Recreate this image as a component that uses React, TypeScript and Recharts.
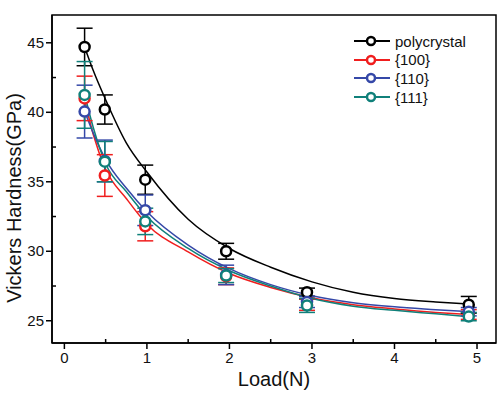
import { ComposedChart, Line, Scatter, ErrorBar, XAxis, YAxis, ReferenceArea, Legend } from 'recharts';

// measured points (load in N, HV in GPa)
const loads = [0.245, 0.49, 0.98, 1.96, 2.94, 4.9];
const polyHV = [44.7, 40.2, 35.15, 30.0, 27.05, 26.15];
const polyErr = [1.35, 1.05, 1.05, 0.57, 0.3, 0.6];
const hv100 = [41.0, 35.45, 31.8, 28.2, 26.15, 25.45];
const err100 = [1.6, 1.5, 1.05, 0.6, 0.4, 0.35];
const hv110 = [40.05, 36.5, 32.95, 28.3, 26.35, 25.65];
const err110 = [1.9, 1.5, 1.1, 0.7, 0.4, 0.3];
const hv111 = [41.25, 36.45, 32.15, 28.25, 26.1, 25.3];
const err111 = [2.4, 1.45, 0.95, 0.5, 0.5, 0.3];

// fitted curves
const fitLoads = [0.245, 0.35, 0.5, 0.75, 1.0, 1.5, 2.0, 2.5, 3.0, 3.5, 4.0, 4.5, 4.9];
const polyFit = [44.7, 43.0, 40.9, 37.8, 35.7, 32.3, 30.2, 28.85, 27.8, 27.05, 26.6, 26.35, 26.2];
const fit100 = [40.9, 38.4, 35.9, 33.8, 31.95, 29.95, 28.4, 27.4, 26.65, 26.15, 25.85, 25.6, 25.45];
const fit110 = [40.1, 38.5, 36.6, 34.55, 32.85, 30.45, 28.75, 27.6, 26.8, 26.3, 26.0, 25.8, 25.65];
const fit111 = [41.3, 38.9, 36.3, 34.3, 32.5, 30.2, 28.6, 27.5, 26.6, 26.05, 25.75, 25.5, 25.3];

const xTicks = [0, 0.5, 1, 1.5, 2, 2.5, 3, 3.5, 4, 4.5, 5];
const yTicks = [25, 27.5, 30, 32.5, 35, 37.5, 40, 42.5, 45];

const series = [
  { name: 'polycrystal', color: '#000000', hv: polyHV, err: polyErr, fit: polyFit },
  { name: '{100}', color: '#f01e1e', hv: hv100, err: err100, fit: fit100 },
  { name: '{110}', color: '#3548a8', hv: hv110, err: err110, fit: fit110 },
  { name: '{111}', color: '#10807a', hv: hv111, err: err111, fit: fit111 },
];

const FONT = '"Liberation Sans", Arial, sans-serif';

const XTick = (props: any) => {
  const { x, y, payload } = props;
  const v = payload.value;
  const major = Number.isInteger(v);
  return (
    <g>
      <line x1={x} x2={x} y1={y} y2={major ? y + 6 : y - 4} stroke="#000" strokeWidth={1.5} />
      {major && (
        <text x={x} y={y + 20} textAnchor="middle" fontSize={15} fontFamily={FONT} fill="#111">
          {v}
        </text>
      )}
    </g>
  );
};

const YTick = (props: any) => {
  const { x, y, payload } = props;
  const v = payload.value;
  const major = Number.isInteger(v);
  return (
    <g>
      <line x1={x} x2={major ? x - 6 : x + 4} y1={y} y2={y} stroke="#000" strokeWidth={1.5} />
      {major && (
        <text x={x - 8} y={y + 5} textAnchor="end" fontSize={15} fontFamily={FONT} fill="#111">
          {v}
        </text>
      )}
    </g>
  );
};

const Ring = (color: string) => (props: any) => {
  const { cx, cy } = props;
  return <circle cx={cx} cy={cy} r={5} fill="#fff" stroke={color} strokeWidth={2.5} />;
};

const renderLegend = () => (
  <div style={{ fontFamily: FONT, fontSize: 15, color: '#111' }}>
    {series.map(s => (
      <div key={s.name} style={{ display: 'flex', alignItems: 'center', height: 18.6 }}>
        <svg width={40} height={12} style={{ marginRight: 3 }}>
          <line x1={2} x2={38} y1={6} y2={6} stroke={s.color} strokeWidth={2} />
          <circle cx={19} cy={6} r={4} fill="#fff" stroke={s.color} strokeWidth={2.5} />
        </svg>
        <span>{s.name}</span>
      </div>
    ))}
  </div>
);

export default function App() {
  return (
    <div style={{ position: 'absolute', left: 0, top: 0, width: 500, height: 393, background: '#fff' }}>
      <ComposedChart width={500} height={393} margin={{ top: 15, right: 4, bottom: 0, left: 0 }}>
        <XAxis
          type="number"
          dataKey="x"
          domain={[-0.15, 5.23]}
          allowDataOverflow
          ticks={xTicks}
          interval={0}
          height={50}
          tickSize={0}
          tickMargin={0}
          tickLine={false}
          axisLine={{ stroke: '#000', strokeWidth: 1.5 }}
          tick={<XTick />}
          label={(p: any) => (
            <text x={274} y={386} textAnchor="middle" fontSize={20} fontFamily={FONT} fill="#111">
              Load(N)
            </text>
          )}
        />
        <YAxis
          type="number"
          domain={[23.4, 47]}
          allowDataOverflow
          ticks={yTicks}
          interval={0}
          width={52}
          tickSize={0}
          tickMargin={0}
          tickLine={false}
          axisLine={{ stroke: '#000', strokeWidth: 1.5 }}
          tick={<YTick />}
          label={(p: any) => (
            <text
              x={14}
              y={198}
              transform="rotate(-90 14 198)"
              textAnchor="middle"
              dominantBaseline="central"
              fontSize={20}
              fontFamily={FONT}
              fill="#111"
            >
              Vickers Hardness(GPa)
            </text>
          )}
        />
        <ReferenceArea x1={-0.15} x2={5.23} y1={23.4} y2={47} fill="none" stroke="#000" strokeWidth={1.5} />
        {series.map(s => (
          <Line
            key={'fit' + s.name}
            data={fitLoads.map((x, i) => ({ x, y: s.fit[i] }))}
            dataKey="y"
            type="monotone"
            stroke={s.color}
            strokeWidth={1.5}
            dot={false}
            activeDot={false}
            legendType="none"
            isAnimationActive={false}
          />
        ))}
        {series.map(s => (
          <Scatter
            key={'pts' + s.name}
            name={s.name}
            data={loads.map((x, i) => ({ x, y: s.hv[i], err: s.err[i] }))}
            dataKey="y"
            fill={s.color}
            shape={Ring(s.color)}
            isAnimationActive={false}
          >
            <ErrorBar dataKey="err" direction="y" width={8} stroke={s.color} strokeWidth={1.5} />
          </Scatter>
        ))}
        <Legend
          content={renderLegend}
          layout="vertical"
          align="center"
          verticalAlign="middle"
          wrapperStyle={{ position: 'absolute', left: 352, top: 32, width: 140 }}
        />
      </ComposedChart>
    </div>
  );
}
